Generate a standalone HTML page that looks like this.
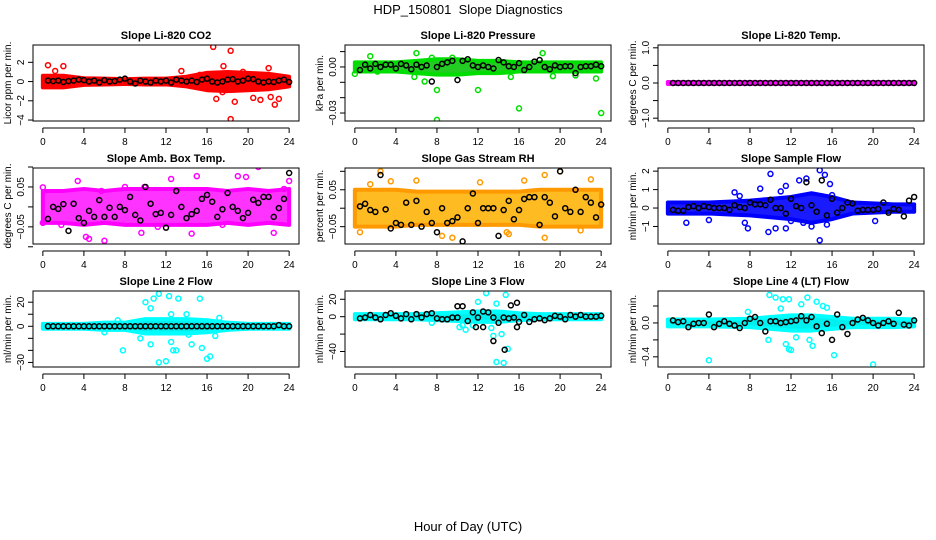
<!DOCTYPE html>
<html><head><meta charset="utf-8">
<style>
html,body{margin:0;padding:0;background:#fff;}
svg{display:block;font-family:"Liberation Sans",Arial,sans-serif;}
</style></head>
<body>
<svg id="chart" width="936" height="540" viewBox="0 0 936 540" xmlns="http://www.w3.org/2000/svg">
<text x="468" y="14" text-anchor="middle" font-size="13">HDP_150801&#160; Slope Diagnostics</text>
<text x="468" y="531" text-anchor="middle" font-size="13">Hour of Day (UTC)</text>
</svg>
<script>
const meanHours=[0.5,1,1.5,2,2.5,3,3.5,4,4.5,5,5.5,6,6.5,7,7.5,8,8.5,9,9.5,10,10.5,11,11.5,12,12.5,13,13.5,14,14.5,15,15.5,16,16.5,17,17.5,18,18.5,19,19.5,20,20.5,21,21.5,22,22.5,23,23.5,24];
const spreadHours=[0,2,4,6,8,10,12,14,16,18,20,22,24];
const xTicks=[0,4,8,12,16,20,24];

const co2Means=[0.1,0.05,0.1,-0.05,0.05,0.1,0.2,0.15,0,0.1,-0.1,0.15,0,0.05,0.2,0.3,0,-0.2,0.1,0,-0.1,0.1,0,0.1,-0.1,0.2,0.1,0,0.1,-0.05,0.2,0.3,0,-0.1,0,0.2,0.25,0,0.1,0.3,0.25,0,-0.1,0,-0.05,0.1,0.2,-0.05];
const co2Spread=[0.6,0.6,0.35,0.3,0.25,0.3,0.3,0.5,0.9,1.0,0.9,0.8,0.5];
const co2Outliers=[[0.5,1.7],[2,1.6],[1.2,1.1],[13.5,1.1],[16.6,3.6],[18.3,3.2],[17.6,1.6],[18.3,-3.9],[16.9,-1.8],[18.7,-2.1],[21.2,-1.9],[22.6,-2.4],[22.2,-1.6],[23,-1.8],[20.5,-1.7],[19.5,1.0],[22,1.4],[15.3,0.7],[17.5,-1.1]];

const presMeans=[-0.002,0.0015,-0.001,0.002,0,0.0015,0.0015,-0.001,0.002,0.001,-0.0015,0.0015,0,0.001,-0.0095,0,0.002,0.003,0.004,-0.0085,0.004,0.005,0.001,0,0.001,0,-0.001,0.0045,0.003,0.0005,0,0.0025,-0.002,0,0.0035,0.0045,0,-0.0015,0.001,0,0.0005,0.0005,-0.004,0,0.0005,0.0005,0.0015,0.0005];
const presSpread=[0.003,0.003,0.003,0.004,0.005,0.005,0.004,0.004,0.003,0.003,0.003,0.003,0.003];
const presOutliers=[[1.5,0.007],[6,0.009],[7.5,0.006],[9.5,0.006],[18.3,0.009],[6.8,-0.0095],[8,-0.0345],[8,-0.015],[12,-0.015],[16,-0.027],[24,-0.03],[15.2,-0.0065],[19.3,-0.006],[23.5,-0.0075],[21.5,-0.0055],[5.8,-0.0065],[0,-0.0045],[2.2,-0.003]];

const tempMeans=[0,0,0,0,0,0,0,0,0,0,0,0,0,0,0,0,0,0,0,0,0,0,0,0,0,0,0,0,0,0,0,0,0,0,0,0,0,0,0,0,0,0,0,0,0,0,0,0];
const tempSpread=[0.03,0.03,0.03,0.03,0.03,0.03,0.03,0.03,0.03,0.03,0.03,0.03,0.03];
const tempOutliers=[];

const ambMeans=[-0.03,0.0,-0.005,0.007,-0.06,0.008,-0.028,-0.04,-0.01,-0.025,0.017,-0.025,-0.002,-0.025,0.0,-0.008,0.025,-0.02,-0.034,0.05,0.008,-0.018,-0.015,-0.052,-0.02,0.04,0.0,-0.028,-0.018,-0.01,0.02,0.03,0.013,-0.025,-0.006,0.035,0.0,-0.01,-0.028,-0.015,0.018,0.01,0.025,0.025,-0.025,-0.003,0.02,0.085];
const ambSpread=[0.04,0.04,0.045,0.04,0.045,0.045,0.045,0.045,0.045,0.04,0.045,0.04,0.045];
const ambOutliers=[[4.2,-0.075],[4.5,-0.08],[6,-0.085],[3.4,0.065],[9.6,-0.065],[12.5,0.07],[15,0.077],[19,0.077],[21,0.1],[19.8,0.075],[24,0.065],[22.5,-0.065],[14.5,-0.067],[0,0.049],[11.2,-0.05],[8,0.05],[0,-0.04],[1.8,-0.045],[5.7,0.04],[9.9,0.05],[17.5,-0.045],[23.5,0.045]];

const rhMeans=[0.005,0.012,-0.005,-0.01,0.09,-0.003,-0.055,-0.04,-0.045,0.015,-0.045,0.02,-0.05,-0.01,-0.04,-0.065,0.0,-0.04,-0.035,-0.025,-0.09,0.0,0.04,-0.04,0.0,0.0,0.0,-0.075,-0.005,0.02,-0.03,-0.005,0.025,0.03,0.03,-0.045,0.03,0.015,-0.022,0.1,0.0,-0.01,0.05,-0.01,0.03,0.015,-0.025,0.01];
const rhSpread=[0.05,0.05,0.05,0.045,0.045,0.045,0.045,0.045,0.045,0.05,0.05,0.05,0.05];
const rhOutliers=[[2.5,0.1],[20,0.1],[18.5,0.09],[9.5,-0.08],[8.5,-0.075],[18.5,-0.08],[15,-0.07],[12.2,0.07],[3.5,0.073],[6,0.075],[23,0.078],[14.8,-0.065],[0.5,-0.065],[1.5,0.065],[22,-0.06],[16.5,0.075]];

const flowMeans=[-0.1,-0.15,-0.15,0.05,0.1,0.0,0.1,0.05,0.0,0.0,0.0,-0.1,0.15,0.05,0.0,0.3,0.2,0.2,0.15,0.45,0.0,0.0,-0.3,0.5,0.1,0.0,1.4,0.15,-0.2,1.5,-0.4,0.5,-0.25,0.0,0.3,0.25,-0.15,-0.1,-0.1,-0.1,-0.05,0.3,-0.25,-0.05,-0.1,-0.45,0.4,0.6];
const flowSpread=[0.3,0.3,0.3,0.35,0.4,0.5,0.6,0.8,0.6,0.3,0.25,0.2,0.2];
const flowOutliers=[[9,1.05],[10,1.85],[11.5,1.2],[12.8,1.5],[13.5,1.6],[14.8,2.05],[15.3,1.8],[15.8,1.3],[7.8,-1.1],[7.5,-0.8],[9.8,-1.3],[10.5,-1.1],[11.5,-1.1],[12,-0.7],[14,-1.0],[14.8,-1.75],[15.5,-0.9],[1.8,-0.8],[4,-0.65],[6.5,0.85],[20.2,-0.7],[13.2,-0.8],[7,0.65],[11,0.9],[16,0.7]];

const l2Means=[0,0,0,0,0,0,0,0,0,0,0,0,0,0,0,0,0,0,0,0,0,0,0,0,0,0,0,0,0,0,0,0,0,0,0,0,0,0,0,0,0,0,0,0,0,1,0,0];
const l2Spread=[2,2,2,3,3,6,6,6,5,3,2,2,2];
const l2Outliers=[[7.8,-20],[10,20],[10.8,23],[11.3,27],[12.3,25],[13.2,23],[15.3,23],[14,10],[10.5,15],[9.5,-10],[10.5,-15],[11.3,-30],[12,-29],[12.5,-13],[13,-20],[12.7,-20],[14.5,-15],[15.5,-18],[16,-27],[16.3,-25],[16.8,-8],[17.2,7],[12.5,10],[14.2,-7],[11,-5],[7.3,5],[6,-5]];

const l3Means=[-2,-1,2,-1,-3,2,4,1,-2,3,-3,3,-1,3,4,-2,-3,-3,-1,-1,12,-5,5,-1,-12,5,-1,-7,-1,-2,-1,-6,2,-6,-3,-2,-4,-2,1,0,-3,2,0,2,0,0,0,1];
const l3Spread=[3,3,3,3,4,5,6,6,4,3,3,3,3];
const l3Outliers=[[12.8,27],[14.7,25],[12,17],[13.8,15],[10.5,-10],[10.8,-15],[11.5,-10],[13.5,-22],[14.3,-20],[13.8,-52],[14.5,-53],[14.9,-37],[13.3,-13],[7.5,-7],[10.2,-12]];
const l3BlackOutliers=[[14.6,-38],[13.5,-28],[15.8,16],[15.2,13],[10,12],[12.5,6],[11.8,-12],[15.8,-12]];

const l4Means=[0.03,0.01,0.02,-0.05,-0.01,0.0,0.0,0.1,-0.05,-0.01,0.02,-0.01,-0.03,-0.06,0.0,0.05,0.07,0.0,-0.1,0.02,0.02,0.0,0.01,0.02,0.03,0.08,0.03,0.07,-0.04,-0.12,-0.01,-0.2,0.1,-0.05,-0.13,0.0,0.04,0.06,0.03,0.0,-0.03,0.0,0.02,-0.01,0.12,-0.02,-0.03,0.03];
const l4Spread=[0.04,0.04,0.04,0.045,0.05,0.07,0.09,0.09,0.07,0.05,0.05,0.05,0.04];
const l4Outliers=[[9.9,0.33],[10.5,0.3],[11.2,0.28],[11.8,0.28],[13.6,0.3],[14.5,0.25],[15.1,0.2],[15.5,0.18],[7.8,0.13],[11,0.17],[9.8,-0.2],[13.8,-0.2],[12.5,-0.17],[14.1,-0.27],[11.5,-0.25],[4,-0.44],[16.2,-0.38],[20,-0.49],[12,-0.32],[11.8,-0.31],[13,0.22]];

const NS='http://www.w3.org/2000/svg';
const svg=document.getElementById('chart');
function mk(tag,attrs,parent){const e=document.createElementNS(NS,tag);for(const k in attrs)e.setAttribute(k,attrs[k]);(parent||svg).appendChild(e);return e;}

const panels=[
 {key:'co2',title:'Slope Li-820 CO2',ylab:'Licor ppm per min.',col:0,row:0,ylim:[-4.1,3.8],ticks:[-4,-2,0,2],labels:[-4,-2,0,2],fmt:v=>String(v),color:'#ff0000',fill:'#ff0000',means:co2Means,spread:co2Spread,out:co2Outliers},
 {key:'pressure',title:'Slope Li-820 Pressure',ylab:'kPa per min.',col:1,row:0,ylim:[-0.0352,0.0143],ticks:[-0.03,-0.02,-0.01,0,0.01],labels:[-0.03,0],fmt:v=>v.toFixed(2),color:'#00dd00',fill:'#22cc22',means:presMeans,spread:presSpread,out:presOutliers},
 {key:'temp',title:'Slope Li-820 Temp.',ylab:'degrees C per min.',col:2,row:0,ylim:[-1.08,1.08],ticks:[-1,-0.5,0,0.5,1],labels:[-1,0,1],fmt:v=>v.toFixed(1),color:'#ff00ff',fill:'#ff00ff',means:tempMeans,spread:tempSpread,out:tempOutliers},
 {key:'amb-box-temp',title:'Slope Amb. Box Temp.',ylab:'degrees C per min.',col:0,row:1,ylim:[-0.093,0.0975],ticks:[-0.1,-0.05,0,0.05,0.1],labels:[-0.05,0.05],fmt:v=>v.toFixed(2),color:'#ff00ff',fill:'#ff33ff',means:ambMeans,spread:ambSpread,out:ambOutliers},
 {key:'gas-rh',title:'Slope Gas Stream RH',ylab:'percent per min.',col:1,row:1,ylim:[-0.097,0.109],ticks:[-0.05,0,0.05,0.1],labels:[-0.05,0.05],fmt:v=>v.toFixed(2),color:'#ff9900',fill:'#ffbb22',means:rhMeans,spread:rhSpread,out:rhOutliers},
 {key:'sample-flow',title:'Slope Sample Flow',ylab:'ml/min per min.',col:2,row:1,ylim:[-1.95,2.17],ticks:[-1,0,1,2],labels:[-1,0,1,2],fmt:v=>String(v),color:'#0000ff',fill:'#1a1aff',means:flowMeans,spread:flowSpread,out:flowOutliers},
 {key:'line2-flow',title:'Slope Line 2 Flow',ylab:'ml/min per min.',col:0,row:2,ylim:[-33.8,29.3],ticks:[-30,-20,-10,0,10,20],labels:[-30,0,20],fmt:v=>String(v),color:'#00ffff',fill:'#00f0f0',means:l2Means,spread:l2Spread,out:l2Outliers},
 {key:'line3-flow',title:'Slope Line 3 Flow',ylab:'ml/min per min.',col:1,row:2,ylim:[-57.8,29.5],ticks:[-40,-20,0,20],labels:[-40,0,20],fmt:v=>String(v),color:'#00ffff',fill:'#00f0f0',means:l3Means,spread:l3Spread,out:l3Outliers,black:l3BlackOutliers},
 {key:'line4-flow',title:'Slope Line 4 (LT) Flow',ylab:'ml/min per min.',col:2,row:2,ylim:[-0.52,0.377],ticks:[-0.4,-0.2,0,0.2],labels:[-0.4,0],fmt:v=>v.toFixed(1),color:'#00ffff',fill:'#00f0f0',means:l4Means,spread:l4Spread,out:l4Outliers}
];
const colL=[33,345,658], rowT=[45,168,291], W=266, H=76;

panels.forEach(p=>{
 const L=colL[p.col],T=rowT[p.row];
 const g=mk('g',{});
 
 
 const xs=h=>L+(h+0.96)/25.92*W;
 const ys=v=>T+H-(v-p.ylim[0])/(p.ylim[1]-p.ylim[0])*H;
 const cp=mk('clipPath',{id:'clip-'+p.key},g);
 mk('rect',{x:L,y:T,width:W,height:H},cp);
 const dg=mk('g',{'clip-path':'url(#clip-'+p.key+')'},g);
 let up=spreadHours.map((h,i)=>xs(h)+','+ys(p.spread[i]));
 let dn=spreadHours.map((h,i)=>xs(h)+','+ys(-p.spread[i])).reverse();
 const band=mk('polygon',{points:up.concat(dn).join(' '),fill:p.fill,stroke:p.color,'stroke-width':4,'stroke-linejoin':'round'},dg);
 
 
 p.out.forEach(o=>{
  const c=mk('circle',{cx:xs(o[0]),cy:ys(o[1]),r:2.5,fill:'none',stroke:p.color,'stroke-width':1.5},dg);
  
  
 });
 p.means.forEach((v,i)=>{
  const c=mk('circle',{cx:xs(meanHours[i]),cy:ys(v),r:2.5,fill:'none',stroke:'#000','stroke-width':1.5},dg);
  
  
 });
 (p.black||[]).forEach(o=>{
  const c=mk('circle',{cx:xs(o[0]),cy:ys(o[1]),r:2.5,fill:'none',stroke:'#000','stroke-width':1.5},dg);
  
  
 });
 const box=mk('rect',{x:L,y:T,width:W,height:H,fill:'none',stroke:'#000','stroke-width':1},g);
 
 
 const t=mk('text',{x:L+W/2,y:T-6,'text-anchor':'middle','font-size':11,'font-weight':'bold'},g);
 t.textContent=p.title;
 
 
 const ay=T+H+7;
 const xa=mk('g',{},g);
 
 
 mk('line',{x1:xs(0),x2:xs(24),y1:ay,y2:ay,stroke:'#000'},xa);
 xTicks.forEach(h=>{
  mk('line',{x1:xs(h),x2:xs(h),y1:ay,y2:ay+5,stroke:'#000'},xa);
  const tl=mk('text',{x:xs(h),y:ay+17,'text-anchor':'middle','font-size':10},xa);
  tl.textContent=h;
 });
 const ya=mk('g',{},g);
 
 
 p.ticks.forEach(v=>{mk('line',{x1:L-5,x2:L,y1:ys(v),y2:ys(v),stroke:'#000'},ya);});
 p.labels.forEach(v=>{
  const tl=mk('text',{x:L-9,y:ys(v),'text-anchor':'middle','font-size':10,transform:'rotate(-90 '+(L-9)+' '+ys(v)+')'},ya);
  tl.textContent=p.fmt(v).replace('-','\u2212');
 });
 const yl=mk('text',{x:L-22,y:T+H/2,'text-anchor':'middle','font-size':10,transform:'rotate(-90 '+(L-22)+' '+(T+H/2)+')'},g);
 yl.textContent=p.ylab;
 
 
});
</script>
</body></html>
